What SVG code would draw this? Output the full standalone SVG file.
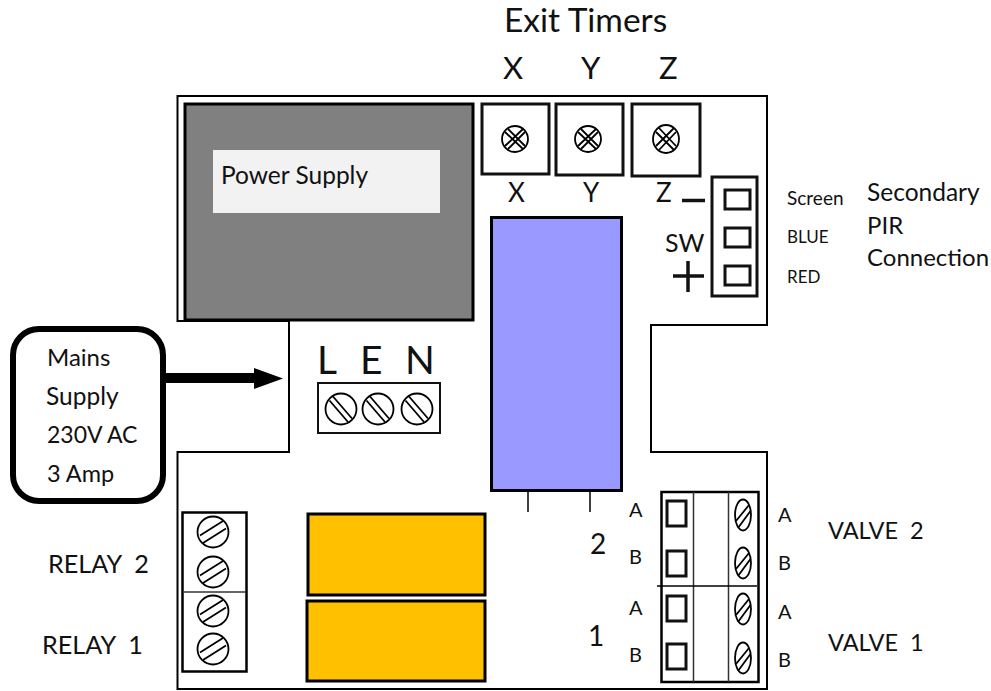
<svg xmlns="http://www.w3.org/2000/svg" xmlns:xlink="http://www.w3.org/1999/xlink" width="991" height="691" viewBox="0 0 991 691">
<style>
text{font-family:Lato,"Open Sans","Liberation Sans",sans-serif;fill:#111;white-space:pre}
.b{fill:#fff;stroke:#000;stroke-width:2}
.t{fill:#fff;stroke:#111;stroke-width:3}
.rel{fill:#ffc000;stroke:#000;stroke-width:3}
.sc{fill:#fff;stroke:#000;stroke-width:1.8}
.sl{fill:none;stroke:#000;stroke-width:1.8}
.l{fill:none;stroke:#333;stroke-width:1.5}
</style>
<defs>
<g id="cross"><ellipse class="sc" rx="13" ry="13"/><path class="sl" d="M-10-7 8 10M-7-10 10 7M-10 7 8-10M-7 10 10-7"/></g>
<g id="crossz"><ellipse class="sc" rx="13" ry="14"/><path class="sl" d="M-10-7 8 11M-7-11 10 7M-10 7 8-11M-7 11 10-7"/></g>
<g id="fs"><circle class="sc" r="15.500"/><path class="sl" d="M-13 3.500 10-11M-10 11 13-3.500"/></g>
<g id="bs"><circle class="sc" r="15.500"/><path class="sl" d="M-8-12.500 11 9.500M-11.500-8.500 7 13"/></g>
<g id="os"><ellipse class="sc" rx="8" ry="15.500"/><path class="sl" d="M-7 6 6-10M-5 13 7.500-4"/></g>
</defs>
<g id="board"><path class="b" d="M177.500 96H767V325H651V452H767V689H177.500V452H289V321H177.500Z"/></g>
<g id="power-supply"><rect x="185" y="104" width="288" height="216" fill="#808080" stroke="#000" stroke-width="3"/><rect x="213" y="150" width="227" height="63" fill="#f2f2f2"/><text x="221" y="184" font-size="24.500">Power Supply</text></g>
<g id="title"><text x="504" y="32" font-size="33.500">Exit Timers</text><text x="503" y="79" font-size="31">X</text><text x="581" y="79" font-size="31">Y</text><text x="659" y="79" font-size="31">Z</text></g>
<g id="timer-x"><rect class="t" x="482" y="104" width="67" height="70"/><use xlink:href="#cross" x="515" y="139"/><text x="508" y="202" font-size="26">X</text></g>
<g id="timer-y"><rect class="t" x="556" y="104" width="67" height="71"/><use xlink:href="#cross" x="588" y="139"/><text x="583" y="202" font-size="26">Y</text></g>
<g id="timer-z"><rect class="t" x="632" y="104" width="68" height="72"/><use xlink:href="#crossz" x="666" y="139"/><text x="656" y="202" font-size="26">Z</text></g>
<g id="blue-block"><rect x="491.500" y="217.500" width="130" height="273" fill="#9999ff" stroke="#000" stroke-width="3"/><path d="M528 491V512M590 491V512" stroke="#000" stroke-width="1.500"/></g>
<g id="pir-connector"><rect class="t" x="712" y="177" width="45" height="119"/><rect class="t" x="725" y="190" width="25" height="19"/><rect class="t" x="725" y="228" width="25" height="19"/><rect class="t" x="725" y="266" width="25" height="19"/>
<path d="M682 200.500H705M688 261V292M673 276H704" stroke="#111" stroke-width="3.500" fill="none"/><text x="665" y="252" font-size="25">SW</text>
<text x="787" y="205" font-size="19">Screen</text><text x="787" y="243" font-size="17">BLUE</text><text x="787" y="283" font-size="17">RED</text>
<text x="867" y="201" font-size="24.500">Secondary</text><text x="867" y="234" font-size="24">PIR</text><text x="867" y="266" font-size="24">Connection</text></g>
<g id="mains-supply"><rect x="13" y="329" width="150" height="172" rx="26" fill="#fff" stroke="#000" stroke-width="6"/><text x="47" y="366" font-size="24">Mains</text><text x="46" y="405" font-size="24.500">Supply</text><text x="47" y="443" font-size="23">230V AC</text><text x="47" y="482" font-size="23.500">3 Amp</text></g>
<g id="connectors"><path d="M166 378H256" stroke="#000" stroke-width="10" fill="none"/><path d="M254 368L283 378.500L254 389Z" fill="#000"/></g>
<g id="lin-terminal"><rect x="318" y="383" width="122" height="50" fill="#fff" stroke="#111" stroke-width="2"/><use xlink:href="#bs" x="341" y="409"/><use xlink:href="#bs" x="378" y="409"/><use xlink:href="#bs" x="417" y="409"/><text x="317" y="374" font-size="39">L</text><text x="360" y="374" font-size="39">E</text><text x="405" y="374" font-size="39">N</text></g>
<g id="relay-terminal"><rect x="182.500" y="512.500" width="64" height="159" fill="#fff" stroke="#000" stroke-width="2.500"/><path d="M183 592H246" stroke="#333" stroke-width="1.500"/><use xlink:href="#fs" x="213" y="532"/><use xlink:href="#fs" x="213" y="572"/><use xlink:href="#fs" x="213" y="611"/><use xlink:href="#fs" x="213" y="649"/><text x="48" y="573" font-size="25.200">RELAY  2</text><text x="42" y="654" font-size="25.200">RELAY  1</text></g>
<g id="relay-2"><rect class="rel" x="308" y="514" width="177" height="81"/></g>
<g id="relay-1"><rect class="rel" x="307" y="601" width="178" height="80"/></g>
<g id="valve-terminal"><rect x="661.500" y="492" width="97" height="190" fill="#fff" stroke="#000" stroke-width="2.500"/><path class="l" d="M693.500 492V682M728.500 492V682"/><path d="M657 586H757" stroke="#000" stroke-width="1.500"/>
<rect class="t" x="667" y="501" width="19" height="25"/><rect class="t" x="667" y="551" width="19" height="25"/><rect class="t" x="667" y="596" width="19" height="25"/><rect class="t" x="667" y="644" width="19" height="25"/>
<use xlink:href="#os" x="743" y="515"/><use xlink:href="#os" x="743" y="563"/><use xlink:href="#os" x="743" y="609"/><use xlink:href="#os" x="743" y="658"/>
<g font-size="20"><text x="629" y="517">A</text><text x="629" y="564">B</text><text x="629" y="615">A</text><text x="629" y="662">B</text><text x="778" y="522">A</text><text x="778" y="570">B</text><text x="778" y="619">A</text><text x="778" y="667">B</text></g>
<text x="590" y="554" font-size="28">2</text><text x="588" y="646" font-size="28">1</text><text x="828" y="539" font-size="23.500">VALVE  2</text><text x="828" y="651" font-size="23.500">VALVE  1</text></g>
</svg>
